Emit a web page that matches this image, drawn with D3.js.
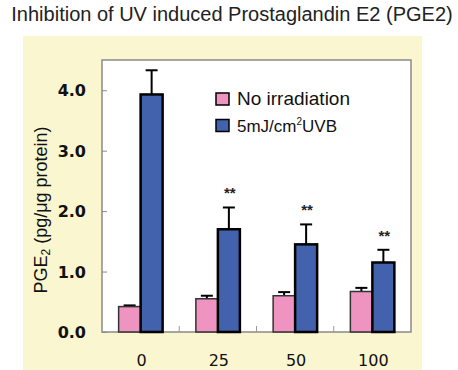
<!DOCTYPE html>
<html>
<head>
<meta charset="utf-8">
<script src="https://cdn.jsdelivr.net/npm/d3@7"></script>
<style>
  body { margin: 0; background: #fff; }
  svg { display: block; }
</style>
</head>
<body>
<div id="chart"></div>
<script>
/* Daten */
const categories = ["0", "25", "50", "100"];
const noIrradiation = [0.42, 0.55, 0.60, 0.67];
const noIrradiationErr = [0.02, 0.05, 0.06, 0.06];
const uvb = [3.93, 1.70, 1.45, 1.15];
const uvbErr = [0.40, 0.36, 0.33, 0.21];
const significance = ["", "**", "**", "**"];
const yTicks = [0, 1, 2, 3, 4];
const seriesNames = ["No irradiation", "5mJ/cm²UVB"];

const width = 458, height = 370;
const plot = { left: 102, right: 411, top: 60, bottom: 332 };
const barWidth = 22;
const capWidth = 12;
const colors = ["#ef94c0", "#4262ae"];

const svg = d3.select("#chart").append("svg")
  .attr("width", width)
  .attr("height", height);

/* gelber Hintergrund */
svg.append("rect")
  .attr("x", 23).attr("y", 36)
  .attr("width", 399).attr("height", height - 36)
  .attr("fill", "#faf6d0");

/* Titel */
svg.append("text")
  .attr("x", 232).attr("y", 21)
  .attr("text-anchor", "middle")
  .style("font-family", "'Liberation Sans', Arial, sans-serif")
  .style("font-size", "20px")
  .attr("fill", "#222")
  .text("Inhibition of UV induced Prostaglandin E2 (PGE2)");

/* Skalen */
const x = d3.scaleBand()
  .domain(categories)
  .range([plot.left, plot.right])
  .padding(0);

const y = d3.scaleLinear()
  .domain([0, 4.5])
  .range([plot.bottom, plot.top]);

/* weisse Zeichenfläche mit grauem Rahmen */
svg.append("rect")
  .attr("x", plot.left).attr("y", plot.top)
  .attr("width", plot.right - plot.left)
  .attr("height", plot.bottom - plot.top)
  .attr("fill", "#fff")
  .attr("stroke", "#8a8a8a")
  .attr("stroke-width", 1.5);

/* Y-Achse: Ticks nach innen */
const yAxis = svg.append("g")
  .attr("transform", `translate(${plot.left},0)`)
  .call(d3.axisRight(y).tickValues(yTicks).tickSize(5).tickFormat(""));
yAxis.select(".domain").remove();
yAxis.selectAll("line").attr("stroke", "#8a8a8a");

svg.append("g").selectAll("text")
  .data(yTicks)
  .enter().append("text")
  .attr("x", 86)
  .attr("y", d => y(d) + 6)
  .attr("text-anchor", "end")
  .style("font-family", "'DejaVu Sans', Verdana, sans-serif")
  .style("font-size", "16px")
  .style("font-weight", "bold")
  .attr("fill", "#111")
  .text(d => d3.format(".1f")(d));

/* X-Achse: Trennstriche zwischen den Gruppen */
svg.append("g").selectAll("line")
  .data(categories.slice(1))
  .enter().append("line")
  .attr("x1", d => x(d)).attr("x2", d => x(d))
  .attr("y1", plot.bottom).attr("y2", plot.bottom - 6)
  .attr("stroke", "#9a9a9a");

svg.append("g").selectAll("text")
  .data(categories)
  .enter().append("text")
  .attr("x", d => x(d) + x.bandwidth() / 2 + 1)
  .attr("y", 366)
  .attr("text-anchor", "middle")
  .style("font-family", "'DejaVu Sans', Verdana, sans-serif")
  .style("font-size", "16px")
  .attr("fill", "#111")
  .text(d => d);

/* Y-Achsenbeschriftung */
const yLabel = svg.append("text")
  .attr("transform", "translate(47,210) rotate(-90)")
  .attr("text-anchor", "middle")
  .style("font-family", "'Liberation Sans', Arial, sans-serif")
  .style("font-size", "18px")
  .attr("fill", "#111");
yLabel.append("tspan").text("PGE");
yLabel.append("tspan").attr("dy", 3).style("font-size", "12px").text("2");
yLabel.append("tspan").attr("dy", -3).text(" (pg/μg protein)");

/* Balken */
const series = [
  { values: noIrradiation, errs: noIrradiationErr, offset: -barWidth, stroke: 1.5, sc: "#333" },
  { values: uvb, errs: uvbErr, offset: 0, stroke: 2.5, sc: "#000" }
];

series.forEach((s, i) => {
  const cx = (d, j) => x(categories[j]) + x.bandwidth() / 2 + s.offset;

  /* Fehlerbalken (nur nach oben) */
  svg.append("g").selectAll("line")
    .data(s.values)
    .enter().append("line")
    .attr("x1", (d, j) => cx(d, j) + barWidth / 2)
    .attr("x2", (d, j) => cx(d, j) + barWidth / 2)
    .attr("y1", d => y(d))
    .attr("y2", (d, j) => y(d + s.errs[j]))
    .attr("stroke", "#000")
    .attr("stroke-width", 2);

  svg.append("g").selectAll("line")
    .data(s.values)
    .enter().append("line")
    .attr("x1", (d, j) => cx(d, j) + barWidth / 2 - capWidth / 2)
    .attr("x2", (d, j) => cx(d, j) + barWidth / 2 + capWidth / 2)
    .attr("y1", (d, j) => y(d + s.errs[j]))
    .attr("y2", (d, j) => y(d + s.errs[j]))
    .attr("stroke", "#000")
    .attr("stroke-width", 2);

  svg.append("g").selectAll("rect")
    .data(s.values)
    .enter().append("rect")
    .attr("x", (d, j) => cx(d, j))
    .attr("y", d => y(d))
    .attr("width", barWidth)
    .attr("height", d => plot.bottom - y(d))
    .attr("fill", colors[i])
    .attr("stroke", s.sc)
    .attr("stroke-width", s.stroke);
});

/* Signifikanzsterne über den UVB-Balken */
svg.append("g").selectAll("text")
  .data(significance)
  .enter().append("text")
  .attr("x", (d, j) => x(categories[j]) + x.bandwidth() / 2 + barWidth / 2 + 1)
  .attr("y", (d, j) => y(uvb[j] + uvbErr[j]) - 9)
  .attr("text-anchor", "middle")
  .style("font-family", "'Liberation Sans', Arial, sans-serif")
  .style("font-size", "15px")
  .style("font-weight", "bold")
  .attr("fill", "#222")
  .text(d => d);

/* Legende */
const legend = svg.append("g");
const legendRows = [{ y: 93, base: 105, size: 19 }, { y: 119.5, base: 131.5, size: 17 }];

legend.selectAll("rect")
  .data(seriesNames)
  .enter().append("rect")
  .attr("x", 216)
  .attr("y", (d, i) => legendRows[i].y)
  .attr("width", 13).attr("height", 12)
  .attr("fill", (d, i) => colors[i])
  .attr("stroke", "#000")
  .attr("stroke-width", 1.5);

legend.selectAll("text")
  .data(seriesNames)
  .enter().append("text")
  .attr("x", 237)
  .attr("y", (d, i) => legendRows[i].base)
  .style("font-family", "'Liberation Sans', Arial, sans-serif")
  .style("font-size", (d, i) => legendRows[i].size + "px")
  .attr("fill", "#111")
  .each(function (d) {
    const t = d3.select(this);
    const parts = d.split("²");
    t.append("tspan").text(parts[0]);
    if (parts.length > 1) {
      t.append("tspan").attr("dy", -7).style("font-size", "10px").text("2");
      t.append("tspan").attr("dy", 7).text(parts[1]);
    }
  });
</script>
</body>
</html>
